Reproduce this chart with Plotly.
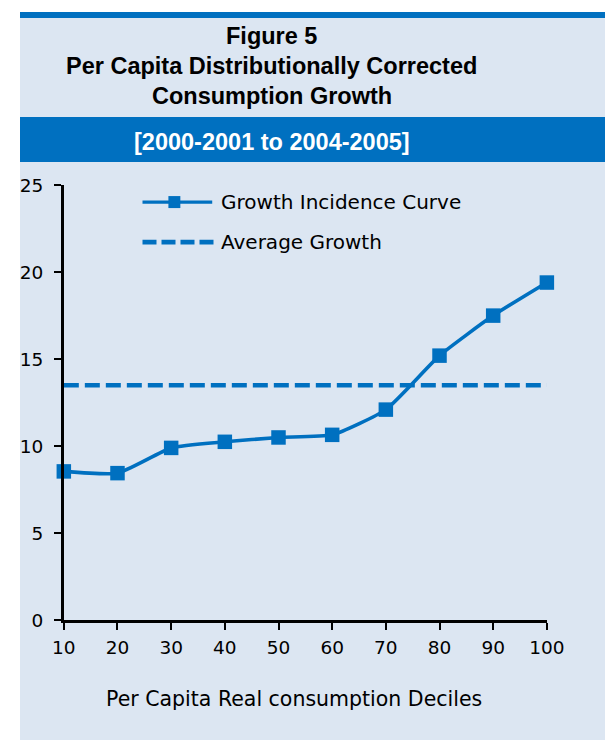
import plotly.graph_objects as go

# ---- data ----
deciles = [10, 20, 30, 40, 50, 60, 70, 80, 90, 100]
gic = [8.55, 8.45, 9.9, 10.25, 10.5, 10.65, 12.1, 15.2, 17.5, 19.4]
avg_growth = 13.5
y_ticks = [0, 5, 10, 15, 20, 25]

title_lines = ["Figure 5", "Per Capita Distributionally Corrected", "Consumption Growth"]
subtitle = "[2000-2001 to 2004-2005]"
x_title = "Per Capita Real consumption Deciles"
series_names = ["Growth Incidence Curve", "Average Growth"]

W, H = 640, 760
# observed mapping of figure px -> photographed px
AX, SX = 17.0, 0.957
AY, SY = 18.0, 0.972
BLUE = "#0070C0"
LIGHT = "#DCE6F2"


def px(x):
    return (x - AX) / SX / W


def py(y):
    return 1 - (y - AY) / SY / H


fig = go.Figure()

fig.add_trace(go.Scatter(
    x=deciles, y=gic, mode="lines+markers", name=series_names[0],
    line=dict(color=BLUE, width=3.6, shape="spline", smoothing=0.5),
    marker=dict(symbol="square", size=14.5, color=BLUE),
    cliponaxis=False, showlegend=False,
))
fig.add_trace(go.Scatter(
    x=[deciles[0], deciles[-1]], y=[avg_growth, avg_growth], mode="lines",
    name=series_names[1],
    line=dict(color=BLUE, width=4.6, dash="15px,6px"),
    cliponaxis=False, showlegend=False,
))

shapes = [
    dict(type="rect", xref="paper", yref="paper", x0=0, x1=1.0, y0=0, y1=py(17),
         fillcolor=LIGHT, line=dict(width=0), layer="below"),
    dict(type="rect", xref="paper", yref="paper", x0=0, x1=1.0, y0=py(17), y1=py(11),
         fillcolor=BLUE, line=dict(width=0), layer="below"),
    dict(type="rect", xref="paper", yref="paper", x0=0, x1=1.0, y0=py(161), y1=py(116),
         fillcolor=BLUE, line=dict(width=0), layer="below"),
    dict(type="line", xref="paper", yref="paper", x0=px(140), x1=px(210), y0=py(201), y1=py(201),
         line=dict(color=BLUE, width=3.2)),
    dict(type="rect", xref="paper", yref="paper", x0=px(166), x1=px(178), y0=py(207), y1=py(195),
         fillcolor=BLUE, line=dict(width=0)),
    dict(type="line", xref="paper", yref="paper", x0=px(140), x1=px(212), y0=py(241), y1=py(241),
         line=dict(color=BLUE, width=4.6, dash="14px,5px")),
]

annotations = []
title_y = [35, 65, 95]
for t, yy in zip(title_lines, title_y):
    annotations.append(dict(
        text="<b>%s</b>" % t, x=px(270), y=py(yy), xref="paper", yref="paper",
        xanchor="center", yanchor="middle", showarrow=False,
        font=dict(family="Liberation Sans, Arial", size=23.5, color="black")))
annotations.append(dict(
    text="<b>%s</b>" % subtitle, x=px(270), y=py(141), xref="paper", yref="paper",
    xanchor="center", yanchor="middle", showarrow=False,
    font=dict(family="Liberation Sans, Arial", size=23.5, color="white")))
for name, yy in zip(series_names, [201, 241]):
    annotations.append(dict(
        text=name, x=px(217), y=py(yy), xref="paper", yref="paper",
        xanchor="left", yanchor="middle", showarrow=False,
        font=dict(family="DejaVu Sans", size=20, color="black")))
annotations.append(dict(
    text=x_title, x=px(292), y=py(698), xref="paper", yref="paper",
    xanchor="center", yanchor="middle", showarrow=False,
    font=dict(family="DejaVu Sans", size=20.5, color="black")))

fig.update_layout(
    width=W, height=H,
    margin=dict(l=0, r=0, t=0, b=0),
    paper_bgcolor="white", plot_bgcolor="rgba(0,0,0,0)",
    shapes=shapes, annotations=annotations, showlegend=False,
    xaxis=dict(
        domain=[px(61), px(546)], range=[10, 100], tickvals=deciles,
        showgrid=False, zeroline=False, showline=True, linecolor="black", linewidth=2.6,
        ticks="outside", ticklen=7, tickwidth=2, tickcolor="black",
        tickfont=dict(family="DejaVu Sans", size=18.5, color="black"),
        ticklabelstandoff=2,
    ),
    yaxis=dict(
        domain=[py(619), py(184)], range=[0, 25], tickvals=y_ticks,
        showgrid=False, zeroline=False, showline=True, linecolor="black", linewidth=2.6,
        ticks="outside", ticklen=7, tickwidth=2, tickcolor="black",
        tickfont=dict(family="DejaVu Sans", size=18.5, color="black"),
        ticklabelstandoff=7,
    ),
)

fig.write_html("out.html")
